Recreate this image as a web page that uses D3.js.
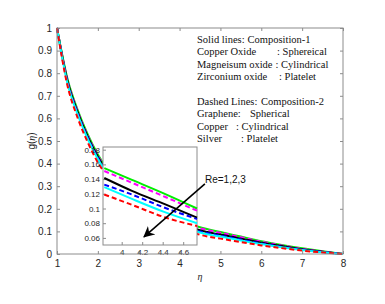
<!DOCTYPE html>
<meta charset="utf-8">
<style>
body { margin: 0; background: #fff; }
svg { display: block; }
.tick text { font: 10px Arial, "Liberation Sans", sans-serif; fill: #262626; }
.inset .tick text { font-size: 8px; }
.legend text { font: 10.5px "Liberation Serif", "Times New Roman", serif; fill: #111; }
</style>
<svg width="385" height="304"></svg>
<script src="https://d3js.org/d3.v7.min.js"></script>
<script>

// main curves, g(eta)
var eta = [1, 1.25, 1.5, 1.75, 2, 2.25, 2.5, 3, 3.5, 4, 4.5, 5, 5.5, 6, 6.5, 7, 7.5, 8];
var gGreen   = [1, 0.78, 0.64, 0.53, 0.44, 0.37, 0.32, 0.245, 0.19, 0.15, 0.118, 0.097, 0.077, 0.057, 0.04, 0.025, 0.012, 0];
var gMagenta = [1, 0.775, 0.635, 0.525, 0.435, 0.365, 0.315, 0.24, 0.185, 0.145, 0.114, 0.094, 0.074, 0.055, 0.038, 0.023, 0.011, 0];
var gBlack   = [1, 0.77, 0.63, 0.52, 0.43, 0.36, 0.31, 0.232, 0.177, 0.137, 0.105, 0.086, 0.068, 0.05, 0.035, 0.021, 0.01, 0];
var gBlue    = [1, 0.765, 0.625, 0.515, 0.425, 0.355, 0.305, 0.228, 0.173, 0.132, 0.1, 0.082, 0.064, 0.047, 0.032, 0.019, 0.009, 0];
var gCyan    = [1, 0.76, 0.62, 0.51, 0.42, 0.35, 0.3, 0.222, 0.167, 0.127, 0.095, 0.077, 0.06, 0.044, 0.03, 0.018, 0.008, 0];
var gRed     = [1, 0.75, 0.605, 0.495, 0.405, 0.34, 0.29, 0.212, 0.157, 0.116, 0.085, 0.068, 0.053, 0.038, 0.026, 0.015, 0.007, 0];

// inset (zoomed) curves
var insetX = [3.83, 4.1, 4.42, 4.735];
var iGreen   = [0.155, 0.139, 0.12, 0.1];
var iMagenta = [0.151, 0.135, 0.116, 0.097];
var iBlack   = [0.1415, 0.124, 0.106, 0.0875];
var iBlue    = [0.1325, 0.119, 0.101, 0.0857];
var iCyan    = [0.129, 0.113, 0.095, 0.08];
var iRed     = [0.119, 0.105, 0.088, 0.0762];

var xTicks = [1, 2, 3, 4, 5, 6, 7, 8];
var yTicks = [0, 0.1, 0.2, 0.3, 0.4, 0.5, 0.6, 0.7, 0.8, 0.9, 1];
var insetXTicks = [4, 4.2, 4.4, 4.6];
var insetYTicks = [0.06, 0.08, 0.1, 0.12, 0.14, 0.16, 0.18];

var legendRows = [
  ["Solid lines:", "Composition-1"],
  ["Copper Oxide", ": Sphereical"],
  ["Magneisum oxide", ": Cylindrical"],
  ["Zirconium oxide", ": Platelet"],
  null,
  ["Dashed Lines:", "Composition-2"],
  ["Graphene:", "Spherical"],
  ["Copper", ": Cylindrical"],
  ["Silver", ": Platelet"]
];
var annotation = "Re=1,2,3";

var series = [
  {main: gGreen, inset: iGreen, color: "#00ee00", dash: null},
  {main: gMagenta, inset: iMagenta, color: "#ff00ff", dash: "5,3"},
  {main: gBlack, inset: iBlack, color: "#000000", dash: null},
  {main: gBlue, inset: iBlue, color: "#0000ff", dash: "5,3"},
  {main: gCyan, inset: iCyan, color: "#00ffff", dash: null},
  {main: gRed, inset: iRed, color: "#ff0000", dash: "5,3"}
];

var svg = d3.select("svg");
var frame = "#8c8c8c";

var x = d3.scaleLinear().domain([1, 8]).range([57, 343]);
var y = d3.scaleLinear().domain([0, 1]).range([254, 28]);

var line = d3.line()
    .x(function(d) { return x(d[0]); })
    .y(function(d) { return y(d[1]); })
    .curve(d3.curveMonotoneX);

// main axes box
svg.append("rect")
    .attr("x", 57).attr("y", 28).attr("width", 286).attr("height", 226)
    .attr("fill", "#fff");

function styleAxis(g) {
  g.select(".domain").remove();
  g.selectAll(".tick line").attr("stroke", frame);
}

svg.append("g").attr("transform", "translate(0,254)")
    .call(d3.axisBottom(x).tickValues(xTicks).tickSize(-3).tickPadding(6).tickFormat(d3.format("d")))
    .call(styleAxis);
svg.append("g").attr("transform", "translate(0,28)")
    .call(d3.axisTop(x).tickValues(xTicks).tickSize(-3).tickFormat(""))
    .call(styleAxis);
svg.append("g").attr("transform", "translate(57,0)")
    .call(d3.axisLeft(y).tickValues(yTicks).tickSize(-3).tickPadding(5).tickFormat(d3.format("~g")))
    .call(styleAxis);
svg.append("g").attr("transform", "translate(343,0)")
    .call(d3.axisRight(y).tickValues(yTicks).tickSize(-3).tickFormat(""))
    .call(styleAxis);

// clip main curves so the inset hides their middle part
var defs = svg.append("defs");
var clip = defs.append("clipPath").attr("id", "mainclip");
clip.append("rect").attr("x", 0).attr("y", 0).attr("width", 106).attr("height", 304);
clip.append("rect").attr("x", 197).attr("y", 0).attr("width", 188).attr("height", 304);

svg.append("g").attr("clip-path", "url(#mainclip)")
  .selectAll("path")
  .data(series)
  .join("path")
    .attr("d", function(s) { return line(eta.map(function(e, i) { return [e, s.main[i]]; })); })
    .attr("fill", "none")
    .attr("stroke", function(s) { return s.color; })
    .attr("stroke-width", 2)
    .attr("stroke-dasharray", function(s) { return s.dash; });

// inset
var ix = d3.scaleLinear().domain([4 - 18.7 / 102.5, 4 + 75.3 / 102.5]).range([103, 197]);
var iy = d3.scaleLinear().domain([0.1 - 36.5 / 735, 0.1 + 61.5 / 735]).range([245, 147]);

var inset = svg.append("g").attr("class", "inset");
inset.append("rect")
    .attr("x", 103).attr("y", 147).attr("width", 94).attr("height", 98)
    .attr("fill", "#fff").attr("stroke", frame).attr("stroke-width", 1);

inset.append("g").attr("transform", "translate(0,245)")
    .call(d3.axisBottom(ix).tickValues(insetXTicks).tickSize(-3).tickPadding(4).tickFormat(d3.format("~g")))
    .call(styleAxis);
inset.append("g").attr("transform", "translate(103,0)")
    .call(d3.axisLeft(iy).tickValues(insetYTicks).tickSize(-3).tickPadding(3).tickFormat(d3.format("~g")))
    .call(styleAxis);

var iline = d3.line()
    .x(function(d) { return ix(d[0]); })
    .y(function(d) { return iy(d[1]); })
    .curve(d3.curveMonotoneX);

inset.append("g")
  .selectAll("path")
  .data(series)
  .join("path")
    .attr("d", function(s) { return iline(insetX.map(function(e, i) { return [e, s.inset[i]]; })); })
    .attr("fill", "none")
    .attr("stroke", function(s) { return s.color; })
    .attr("stroke-width", 2)
    .attr("stroke-dasharray", function(s) { return s.dash; });

// main frame lines on top
svg.append("rect")
    .attr("x", 57).attr("y", 28).attr("width", 286).attr("height", 226)
    .attr("fill", "none").attr("stroke", frame).attr("stroke-width", 1);

// arrow annotation
defs.append("marker")
    .attr("id", "head")
    .attr("viewBox", "0 0 10 10")
    .attr("refX", 9).attr("refY", 5)
    .attr("markerWidth", 7).attr("markerHeight", 7)
    .attr("orient", "auto")
  .append("path")
    .attr("d", "M0,0L10,5L0,10L3,5Z")
    .attr("fill", "#000");

svg.append("line")
    .attr("x1", x(4.62)).attr("y1", y(0.31))
    .attr("x2", x(3.13)).attr("y2", y(0.076))
    .attr("stroke", "#000").attr("stroke-width", 1.6)
    .attr("marker-end", "url(#head)");

svg.append("text")
    .attr("x", 205).attr("y", 182.5)
    .style("font", "10px Arial, 'Liberation Sans', sans-serif")
    .attr("fill", "#111")
    .text(annotation);

// axis labels
var ylab = svg.append("text")
    .attr("transform", "translate(35,141) rotate(-90)")
    .attr("text-anchor", "middle")
    .style("font", "10px Arial, 'Liberation Sans', sans-serif")
    .attr("fill", "#262626");
ylab.append("tspan").text("g(");
ylab.append("tspan").style("font-family", "'Liberation Serif', serif").style("font-style", "italic").text("η");
ylab.append("tspan").text(")");

svg.append("text")
    .attr("x", 200).attr("y", 280)
    .attr("text-anchor", "middle")
    .style("font", "italic 10px 'Liberation Serif', serif")
    .attr("fill", "#262626")
    .text("η");

// legend text
var rowY = [43, 55.4, 67.8, 80.2, 0, 104.5, 117, 129.5, 142];
var rightX = [247, 277, 275, 279, 0, 261, 250, 236, 241];
var legend = svg.append("g").attr("class", "legend");
legendRows.forEach(function(r, i) {
  if (!r) return;
  var left = legend.append("text").attr("x", 197).attr("y", rowY[i]).text(r[0]);
  var end = 197 + left.node().getComputedTextLength() + 3;
  legend.append("text").attr("x", Math.max(rightX[i], end)).attr("y", rowY[i]).text(r[1]);
});

</script>
